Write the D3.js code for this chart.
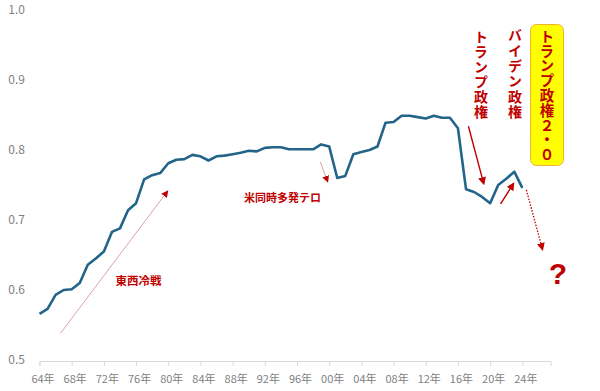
<!DOCTYPE html>
<html>
<head>
<meta charset="utf-8">
<script src="https://cdn.jsdelivr.net/npm/d3@7"></script>
<style>
  body { margin: 0; background: #fff; }
  text { font-family: "Noto Sans CJK JP", "Noto Sans", sans-serif; }
</style>
</head>
<body>
<div id="drawingArea"></div>
<script>
// data
const years = [1964,1965,1966,1967,1968,1969,1970,1971,1972,1973,1974,1975,1976,1977,1978,1979,
  1980,1981,1982,1983,1984,1985,1986,1987,1988,1989,1990,1991,1992,1993,1994,1995,1996,1997,1998,1999,
  2000,2001,2002,2003,2004,2005,2006,2007,2008,2009,2010,2011,2012,2013,2014,2015,2016,2017,2018,2019,
  2020,2021,2022,2023,2024];
const values = [0.566,0.573,0.593,0.600,0.601,0.610,0.636,0.645,0.655,0.683,0.688,0.714,0.724,0.758,0.764,0.767,
  0.781,0.786,0.787,0.793,0.791,0.785,0.791,0.792,0.794,0.796,0.799,0.798,0.803,0.804,0.804,0.801,0.801,0.801,0.801,0.808,
  0.805,0.760,0.763,0.794,0.797,0.800,0.805,0.839,0.840,0.849,0.849,0.847,0.845,0.849,0.846,0.846,0.831,0.744,0.740,0.733,
  0.724,0.750,0.759,0.769,0.746];
const xTickYears = [1964,1968,1972,1976,1980,1984,1988,1992,1996,2000,2004,2008,2012,2016,2020,2024];
const yTicks = [0.5,0.6,0.7,0.8,0.9,1.0];

const labelColdWar = "東西冷戦";
const labelTerror = "米同時多発テロ";
const labelTrump = "トランプ政権";
const labelBiden = "バイデン政権";
const labelTrump2 = "トランプ政権２・０";

const width = 600, height = 391;
const red = "#c00000";

const svg = d3.select("#drawingArea").append("svg")
    .attr("width", width)
    .attr("height", height);

const x = d3.scaleLinear().domain([1964, 2027.5]).range([39.5, 550.5]);
const y = d3.scaleLinear().domain([0.5, 1.0]).range([360, 10]);

// arrow heads
let defs = svg.append("defs");
function addMarker(id, size) {
    defs.append("marker")
        .attr("id", id)
        .attr("viewBox", "0 0 10 10")
        .attr("refX", 8).attr("refY", 5)
        .attr("markerUnits", "userSpaceOnUse")
        .attr("markerWidth", size).attr("markerHeight", size)
        .attr("orient", "auto")
        .append("path")
        .attr("d", "M0,0 L10,5 L0,10 Z")
        .attr("fill", red);
}
addMarker("headSmall", 7);
addMarker("headBig", 8);

// y labels (no axis line)
svg.append("g").selectAll("text")
    .data(yTicks)
    .join("text")
    .attr("x", 25)
    .attr("y", d => y(d) + 4)
    .attr("text-anchor", "end")
    .attr("font-size", 12)
    .attr("fill", "#7f7f7f")
    .text(d => d.toFixed(1));

// x axis
const xAxis = svg.append("g")
    .attr("transform", "translate(0,361)")
    .call(d3.axisBottom(x)
        .tickValues(xTickYears)
        .tickSizeInner(5)
        .tickSizeOuter(5)
        .tickFormat(d => String(d % 100).padStart(2, "0") + "年"));
xAxis.select(".domain").attr("stroke", "#d9d9d9");
xAxis.selectAll(".tick line").attr("stroke", "#d9d9d9");
xAxis.selectAll(".tick text")
    .attr("y", 22).attr("dy", null).attr("dx", 3)
    .attr("font-size", 11)
    .attr("fill", "#7f7f7f")
    .style("font-family", "'Noto Sans CJK JP', sans-serif");

// main line
const line = d3.line()
    .x((d, i) => x(years[i]))
    .y(d => y(d));

svg.append("path")
    .datum(values)
    .attr("d", line)
    .attr("fill", "none")
    .attr("stroke", "#236489")
    .attr("stroke-width", 2.6)
    .attr("stroke-linejoin", "round");

// annotation arrows
function arrow(x1, y1, x2, y2, opts) {
    svg.append("line")
        .attr("x1", x(x1)).attr("y1", y(y1))
        .attr("x2", x(x2)).attr("y2", y(y2))
        .attr("stroke", opts.color)
        .attr("stroke-width", opts.w)
        .attr("stroke-dasharray", opts.dash || null)
        .attr("marker-end", "url(#" + opts.head + ")");
}
arrow(1966.6, 0.538, 1979.9, 0.741, { color: "#d48a8a", w: 0.8, head: "headSmall" });
arrow(1998.9, 0.783, 1999.8, 0.755, { color: "#d48a8a", w: 0.8, head: "headSmall" });
arrow(2017.3, 0.834, 2019.2, 0.752, { color: red, w: 1.4, head: "headBig" });
arrow(2021.3, 0.723, 2022.9, 0.752, { color: red, w: 1.4, head: "headBig" });
arrow(2024.5, 0.743, 2026.5, 0.658, { color: red, w: 1.3, dash: "1.5,1.5", head: "headBig" });

// horizontal labels
svg.append("text")
    .attr("x", x(1976.3)).attr("y", y(0.614))
    .attr("text-anchor", "middle").attr("dominant-baseline", "central")
    .attr("font-size", 11.5).attr("font-weight", "bold").attr("fill", red)
    .text(labelColdWar);
svg.append("text")
    .attr("x", x(1994.2)).attr("y", y(0.733))
    .attr("text-anchor", "middle").attr("dominant-baseline", "central")
    .attr("font-size", 11).attr("font-weight", "bold").attr("fill", red)
    .text(labelTerror);

// vertical labels
function vertical(str, cx, top, size, spacing) {
    svg.append("text")
        .attr("x", cx).attr("y", top)
        .style("writing-mode", "vertical-rl")
        .style("text-orientation", "upright")
        .attr("letter-spacing", spacing)
        .attr("font-size", size).attr("font-weight", "bold").attr("fill", red)
        .text(str);
}
vertical(labelTrump, 481, 30, 14, 1);
vertical(labelBiden, 515, 28, 14, 1.3);

svg.append("rect")
    .attr("x", 530.5).attr("y", 24.5)
    .attr("width", 33).attr("height", 141)
    .attr("rx", 6)
    .attr("fill", "#ffff00")
    .attr("stroke", "#f2b134")
    .attr("stroke-width", 1);
vertical(labelTrump2, 547, 29, 14.5, 0.3);

svg.append("text")
    .attr("x", 558).attr("y", 273)
    .attr("text-anchor", "middle").attr("dominant-baseline", "central")
    .attr("font-size", 30).attr("font-weight", "bold").attr("fill", red)
    .style("font-family", "'Liberation Sans', Arial, sans-serif")
    .text("?");
</script>
</body>
</html>
